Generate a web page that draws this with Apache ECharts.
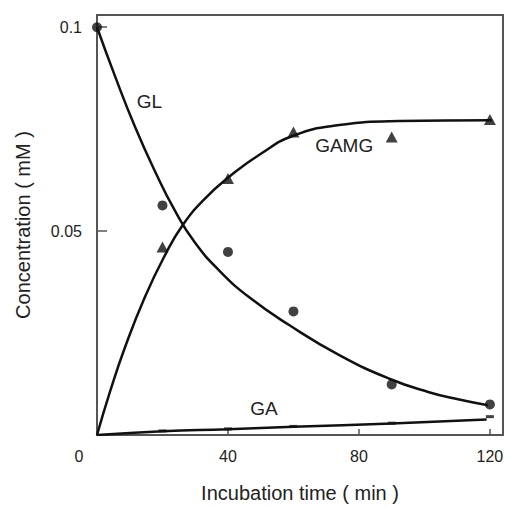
<!DOCTYPE html>
<html>
<head>
<meta charset="utf-8">
<script src="https://cdn.jsdelivr.net/npm/echarts@6/dist/echarts.min.js"></script>
<style>
    html, body {margin: 0; padding: 0; background: #fff;}
    #chart {width: 509px; height: 508px;}
</style>
</head>
<body>
<div id="chart"></div>
<script>
// measured points (incubation time, min)
var times = [0, 20, 40, 60, 90, 120];
var glValues = [0.1, 0.0563, 0.0449, 0.0303, 0.0124, 0.0075];
var gamgValues = [null, 0.0461, 0.0629, 0.0743, 0.0731, 0.0774];
var gaValues = [null, 0.0010, 0.0015, 0.0021, 0.0029, 0.0045];

// fitted curves
var glCurveT = [0, 5.5, 11.6, 17.7, 23.8, 29.9, 37.5, 46.6, 58.8, 74, 89.3, 101.4, 110.6, 119.4];
var glCurveV = [0.1, 0.0880, 0.0756, 0.0647, 0.0550, 0.0472, 0.0402, 0.0337, 0.0269, 0.0196, 0.0138, 0.0105, 0.0087, 0.0073];
var gamgCurveT = [0, 4, 8.5, 14.6, 20.7, 26.2, 32.9, 40.5, 49.7, 60.3, 74, 92.3, 120.6];
var gamgCurveV = [0, 0.0107, 0.0214, 0.0338, 0.0440, 0.0515, 0.0579, 0.0634, 0.0688, 0.0735, 0.0760, 0.0770, 0.0772];
var gaCurveT = [0, 20, 40, 60, 90, 119];
var gaCurveV = [0, 0.0009, 0.0014, 0.002, 0.0028, 0.0038];

var xTicks = ['0', '40', '80', '120'];
var yTicks = {'0.05': '0.05', '0.1': '0.1'};

function pairs(xs, ys) {
    var out = [];
    for (var i = 0; i < xs.length; i++) {
        if (ys[i] !== null) {
            out.push([xs[i], ys[i]]);
        }
    }
    return out;
}

var font = 'Liberation Sans, Arial, sans-serif';
var ink = '#222';

function curve(name, xs, ys, labelAt) {
    return {
        name: name,
        type: 'line',
        data: pairs(xs, ys),
        smooth: 0.5,
        showSymbol: false,
        lineStyle: {color: '#111', width: 2.5},
        z: 3,
        markPoint: {
            symbol: 'circle',
            symbolSize: 0,
            data: [{coord: labelAt, value: name}],
            label: {show: true, position: 'inside', color: ink, fontFamily: font, fontSize: 19, formatter: name}
        }
    };
}

var chart = echarts.init(document.getElementById('chart'), null, {renderer: 'svg'});
var option = {
    animation: false,
    grid: {left: 97, right: 6, top: 15, bottom: 69, show: true, borderColor: '#555', borderWidth: 2},
    xAxis: {
        type: 'value',
        min: 0,
        max: 124,
        interval: 40,
        name: 'Incubation time ( min )',
        nameLocation: 'middle',
        nameGap: 48,
        nameTextStyle: {color: ink, fontFamily: font, fontSize: 20},
        axisLine: {lineStyle: {color: '#555', width: 2}},
        axisTick: {inside: true, length: 6, lineStyle: {color: '#555', width: 1.5}},
        splitLine: {show: false},
        axisLabel: {
            margin: 13,
            color: ink,
            fontFamily: font,
            fontSize: 16,
            formatter: function (v) {
                var s = String(v);
                if (xTicks.indexOf(s) < 0) return '';
                return v === 0 ? '{z|0}' : s;
            },
            rich: {z: {padding: [0, 36, 0, 0], color: ink, fontFamily: font, fontSize: 16}}
        }
    },
    yAxis: {
        type: 'value',
        min: 0,
        max: 0.103,
        interval: 0.05,
        name: 'Concentration ( mM )',
        nameLocation: 'middle',
        nameGap: 64,
        nameTextStyle: {color: ink, fontFamily: font, fontSize: 20},
        axisLine: {show: true, lineStyle: {color: '#555', width: 2}},
        axisTick: {show: true, inside: true, length: 10, lineStyle: {color: '#555', width: 1.5}},
        splitLine: {show: false},
        axisLabel: {
            margin: 15,
            color: ink,
            fontFamily: font,
            fontSize: 16,
            formatter: function (v) {
                return yTicks[String(+v.toFixed(3))] || '';
            }
        }
    },
    series: [
        curve('GL', glCurveT, glCurveV, [16, 0.0818]),
        curve('GAMG', gamgCurveT, gamgCurveV, [75.5, 0.0709]),
        curve('GA', gaCurveT, gaCurveV, [51, 0.0066]),
        {
            name: 'GL points', type: 'scatter', data: pairs(times, glValues),
            symbol: 'circle', symbolSize: 10, itemStyle: {color: '#111'}, z: 4
        },
        {
            name: 'GAMG points', type: 'scatter', data: pairs(times, gamgValues),
            symbol: 'triangle', symbolSize: [12, 11], itemStyle: {color: '#111'}, z: 4
        },
        {
            name: 'GA points', type: 'scatter', data: pairs(times, gaValues),
            symbol: 'rect', symbolSize: [8, 3], itemStyle: {color: '#111'}, z: 4
        }
    ]
};
chart.setOption(option);
</script>
</body>
</html>
